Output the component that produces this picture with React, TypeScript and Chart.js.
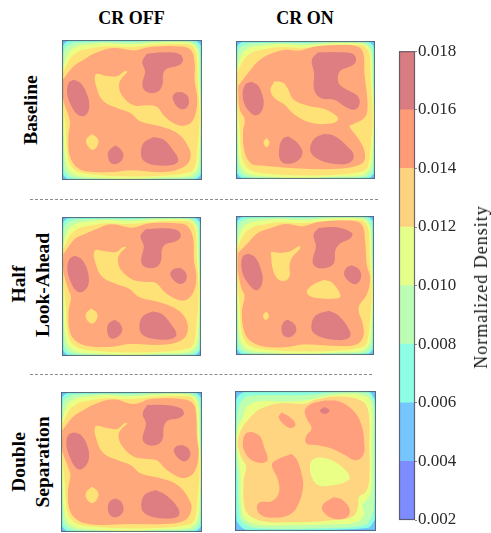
import React, { useEffect, useRef } from "react";
import { Chart, registerables } from "chart.js";

Chart.register(...registerables);

type Pt = [number, number];

// Colour-bar bands and ticks
const bandEdges = [0.002, 0.004, 0.006, 0.008, 0.01, 0.012, 0.014, 0.016, 0.018];
const bandColours = ["#7D8CFF", "#75C6FF", "#8CFFE4", "#BCFFB4", "#E6FF8A", "#FFD27F", "#FF9C78", "#D97C82"];

const columnTitles = ["CR OFF", "CR ON"];

// Contours shared by panels 1-5 (panel units, 0..420)
const rimCyan: Pt[] = [[22, 2], [120, 1], [210, 0], [300, 0], [398, 2], [410, 10], [418, 22], [421, 120], [423, 230], [421, 320], [418, 398], [410, 410], [398, 418], [300, 422], [210, 423], [120, 422], [22, 418], [10, 410], [2, 398], [-2, 320], [-3, 210], [-2, 120], [2, 22], [10, 10], [22, 2]];
const rimGreen: Pt[] = [[38, 8], [130, 6], [205, 7], [285, 4], [385, 5], [402, 12], [412, 30], [415, 120], [419, 230], [417, 320], [413, 390], [402, 408], [385, 414], [300, 418], [185, 420], [95, 418], [35, 413], [15, 403], [7, 385], [3, 290], [-2, 130], [3, 60], [12, 22], [38, 8]];
const rimLime: Pt[] = [[48, 18], [130, 10], [205, 13], [285, 8], [380, 8], [398, 18], [408, 40], [411, 120], [416, 230], [412, 330], [407, 380], [395, 400], [380, 408], [300, 412], [185, 416], [95, 412], [40, 405], [22, 392], [12, 370], [5, 280], [-2, 125], [8, 70], [22, 35], [48, 18]];
const rimYellow: Pt[] = [[55, 32], [130, 20], [205, 22], [285, 15], [380, 14], [395, 24], [403, 45], [406, 120], [412, 230], [404, 340], [398, 380], [385, 395], [305, 406], [185, 408], [95, 403], [50, 395], [30, 380], [18, 350], [12, 270], [1, 120], [10, 85], [30, 50], [55, 32]];

// Panel 1: Baseline, CR OFF
const p1Orange: Pt[] = [[38, 150], [70, 110], [100, 90], [135, 70], [190, 55], [250, 62], [300, 52], [380, 50], [420, 60], [432, 100], [432, 150], [440, 210], [432, 260], [415, 282], [385, 285], [345, 260], [320, 230], [290, 225], [250, 225], [215, 195], [207, 165], [215, 145], [232, 125], [222, 123], [200, 138], [170, 137], [135, 133], [140, 180], [160, 215], [200, 235], [240, 250], [270, 275], [330, 290], [380, 310], [410, 345], [420, 380], [400, 410], [340, 425], [240, 420], [190, 425], [130, 425], [85, 415], [60, 380], [55, 320], [60, 280], [55, 255], [40, 210], [38, 150]];
const p1RedA: Pt[] = [[70, 150], [90, 160], [108, 190], [116, 230], [105, 255], [85, 255], [65, 230], [52, 195], [55, 160], [70, 150]];
const p1RedB: Pt[] = [[290, 72], [340, 68], [385, 72], [397, 90], [385, 105], [350, 115], [338, 130], [335, 165], [320, 185], [290, 185], [277, 165], [285, 125], [277, 95], [290, 72]];
const p1RedC: Pt[] = [[395, 187], [412, 200], [413, 225], [398, 237], [380, 228], [368, 205], [375, 190], [395, 187]];
const p1RedD: Pt[] = [[310, 322], [340, 330], [370, 365], [383, 390], [370, 403], [320, 405], [285, 395], [273, 375], [280, 340], [310, 322]];
const p1RedE: Pt[] = [[195, 347], [212, 360], [218, 380], [205, 398], [185, 400], [175, 385], [175, 365], [195, 347]];
const p1Isle: Pt[] = [[125, 313], [140, 325], [143, 340], [130, 358], [115, 350], [108, 330], [125, 313]];

// Panel 2: Baseline, CR ON
const p2Orange: Pt[] = [[40, 170], [70, 130], [100, 95], [130, 75], [180, 60], [225, 62], [270, 50], [340, 45], [400, 50], [417, 70], [420, 130], [428, 200], [428, 250], [415, 270], [385, 285], [375, 292], [395, 320], [418, 360], [420, 395], [400, 410], [340, 420], [240, 420], [110, 410], [80, 405], [60, 370], [55, 310], [60, 270], [45, 240], [40, 170]];
const p2Isle: Pt[] = [[150, 155], [175, 160], [190, 180], [205, 210], [250, 230], [300, 240], [335, 260], [340, 272], [320, 282], [260, 280], [210, 255], [180, 225], [150, 205], [138, 180], [150, 155]];
const p2IsleSmall: Pt[] = [[125, 328], [133, 340], [125, 354], [117, 340], [125, 328]];
const p2RedA: Pt[] = [[80, 157], [100, 170], [115, 210], [112, 240], [95, 257], [78, 250], [60, 225], [54, 190], [62, 165], [80, 157]];
const p2RedB: Pt[] = [[280, 68], [340, 67], [385, 72], [395, 90], [385, 105], [350, 120], [340, 140], [345, 165], [375, 185], [400, 200], [405, 225], [390, 240], [365, 232], [330, 210], [290, 205], [270, 180], [270, 130], [263, 90], [280, 68]];
const p2RedC: Pt[] = [[300, 315], [330, 322], [365, 350], [388, 380], [375, 402], [330, 405], [280, 390], [258, 365], [270, 330], [300, 315]];
const p2RedD: Pt[] = [[190, 323], [215, 340], [233, 370], [220, 395], [190, 405], [168, 395], [165, 355], [175, 330], [190, 323]];

// Panel 3: Half Look-Ahead, CR OFF
const p3Orange: Pt[] = [[42, 150], [75, 105], [105, 90], [140, 75], [185, 60], [250, 70], [300, 57], [385, 57], [415, 65], [432, 100], [435, 170], [442, 215], [435, 260], [415, 285], [390, 287], [350, 265], [320, 235], [285, 232], [250, 225], [215, 195], [207, 165], [215, 145], [232, 128], [222, 127], [200, 142], [170, 140], [135, 138], [140, 185], [160, 220], [200, 240], [240, 255], [270, 280], [330, 295], [380, 315], [410, 345], [415, 385], [395, 410], [340, 422], [240, 420], [190, 428], [130, 428], [85, 415], [62, 385], [58, 320], [65, 280], [55, 250], [42, 200], [42, 150]];
const p3RedA: Pt[] = [[75, 155], [95, 165], [112, 195], [117, 235], [105, 258], [85, 262], [65, 235], [54, 195], [60, 165], [75, 155]];
const p3RedB: Pt[] = [[290, 75], [345, 72], [385, 78], [395, 95], [380, 110], [350, 118], [338, 135], [335, 170], [320, 188], [290, 188], [277, 170], [285, 125], [275, 95], [290, 75]];
const p3RedC: Pt[] = [[395, 192], [410, 205], [412, 225], [398, 238], [380, 232], [365, 210], [375, 195], [395, 192]];
const p3RedD: Pt[] = [[310, 323], [340, 332], [368, 365], [382, 392], [365, 405], [320, 405], [285, 395], [272, 375], [280, 340], [310, 323]];
const p3RedE: Pt[] = [[195, 348], [212, 360], [218, 380], [205, 398], [185, 403], [175, 385], [177, 362], [195, 348]];
const p3Isle: Pt[] = [[125, 315], [140, 325], [143, 340], [130, 358], [115, 350], [110, 330], [125, 315]];

// Panel 4: Half Look-Ahead, CR ON
const p4Orange: Pt[] = [[40, 145], [70, 115], [100, 85], [140, 70], [185, 58], [235, 65], [285, 52], [380, 48], [415, 60], [425, 110], [430, 180], [440, 220], [430, 270], [405, 310], [418, 360], [420, 395], [400, 420], [340, 425], [240, 420], [190, 428], [130, 428], [85, 415], [60, 385], [52, 320], [60, 275], [50, 250], [40, 200], [40, 145]];
const p4IsleA: Pt[] = [[140, 142], [170, 145], [200, 140], [225, 125], [228, 130], [205, 155], [195, 180], [195, 215], [180, 228], [160, 222], [145, 190], [140, 142]];
const p4IsleB: Pt[] = [[300, 227], [325, 235], [350, 275], [330, 282], [280, 280], [255, 272], [250, 258], [270, 240], [300, 227]];
const p4IsleC: Pt[] = [[125, 322], [132, 335], [124, 346], [116, 335], [125, 322]];
const p4RedA: Pt[] = [[70, 148], [90, 158], [108, 195], [113, 230], [100, 255], [85, 252], [60, 220], [50, 185], [55, 155], [70, 148]];
const p4RedB: Pt[] = [[285, 70], [340, 68], [385, 85], [380, 100], [350, 115], [335, 135], [330, 175], [310, 188], [280, 188], [267, 170], [277, 125], [270, 90], [285, 70]];
const p4RedC: Pt[] = [[385, 183], [405, 193], [413, 215], [400, 237], [380, 232], [363, 210], [370, 190], [385, 183]];
const p4RedD: Pt[] = [[315, 320], [345, 335], [380, 385], [372, 403], [320, 405], [275, 390], [263, 370], [275, 335], [315, 320]];
const p4RedE: Pt[] = [[190, 347], [210, 360], [215, 380], [200, 397], [180, 395], [172, 375], [178, 355], [190, 347]];

// Panel 5: Double Separation, CR OFF
const p5Orange: Pt[] = [[38, 150], [70, 110], [100, 90], [135, 72], [190, 58], [250, 72], [300, 57], [390, 57], [425, 70], [435, 110], [437, 170], [442, 220], [432, 270], [410, 290], [385, 290], [345, 265], [320, 240], [290, 235], [250, 228], [215, 195], [205, 165], [215, 145], [232, 130], [222, 128], [200, 145], [170, 142], [135, 138], [140, 185], [160, 220], [200, 240], [240, 255], [270, 280], [330, 295], [380, 315], [415, 360], [420, 390], [400, 420], [340, 430], [240, 430], [190, 432], [130, 432], [85, 420], [60, 390], [55, 330], [62, 285], [55, 260], [38, 210], [38, 150]];
const p5RedA: Pt[] = [[72, 157], [92, 165], [110, 195], [115, 235], [100, 262], [82, 265], [62, 235], [50, 195], [55, 165], [72, 157]];
const p5RedB: Pt[] = [[290, 75], [345, 75], [390, 85], [398, 100], [385, 112], [350, 120], [338, 140], [335, 175], [320, 192], [290, 192], [277, 175], [287, 130], [277, 100], [290, 75]];
const p5RedC: Pt[] = [[395, 195], [412, 205], [417, 225], [403, 242], [385, 235], [370, 212], [378, 198], [395, 195]];
const p5RedD: Pt[] = [[315, 330], [345, 345], [375, 375], [385, 400], [370, 412], [320, 412], [285, 400], [273, 380], [282, 345], [315, 330]];
const p5RedE: Pt[] = [[195, 355], [212, 365], [218, 390], [205, 407], [185, 408], [174, 390], [178, 365], [195, 355]];
const p5Isle: Pt[] = [[125, 320], [140, 332], [143, 348], [128, 367], [112, 358], [108, 338], [125, 320]];

// Panel 6: Double Separation, CR ON
const p6Blue: Pt[] = [[42, 31], [240, 30], [445, 30], [455, 35], [458, 430], [445, 455], [45, 456], [33, 447], [28, 190], [28, 40], [42, 31]];
const p6Cyan: Pt[] = [[60, 36], [240, 34], [425, 33], [440, 48], [450, 70], [452, 250], [452, 400], [440, 430], [425, 443], [240, 450], [70, 450], [48, 438], [36, 415], [31, 190], [34, 65], [45, 45], [60, 36]];
const p6Green: Pt[] = [[68, 48], [130, 46], [240, 46], [330, 38], [425, 40], [438, 55], [446, 85], [447, 250], [444, 380], [435, 415], [415, 435], [320, 443], [100, 444], [60, 432], [46, 410], [40, 300], [33, 190], [40, 100], [50, 65], [68, 48]];
const p6Lime: Pt[] = [[65, 80], [100, 65], [180, 65], [240, 62], [330, 45], [420, 50], [437, 80], [438, 200], [437, 310], [430, 350], [410, 375], [415, 400], [395, 425], [320, 432], [180, 435], [100, 433], [60, 415], [50, 380], [48, 300], [42, 230], [36, 190], [42, 140], [55, 110], [65, 80]];
const p6Yellow: Pt[] = [[100, 90], [140, 75], [180, 70], [240, 72], [270, 60], [340, 50], [410, 65], [428, 100], [430, 200], [430, 300], [420, 335], [400, 350], [395, 385], [380, 410], [320, 420], [250, 425], [200, 425], [130, 425], [80, 410], [60, 380], [58, 300], [65, 260], [50, 230], [40, 190], [50, 150], [75, 115], [100, 90]];
const p6OrangeA: Pt[] = [[300, 62], [340, 65], [380, 90], [405, 130], [415, 190], [412, 225], [390, 240], [360, 225], [320, 205], [280, 195], [245, 190], [243, 170], [260, 145], [245, 115], [240, 90], [260, 72], [300, 62]];
const p6OrangeB: Pt[] = [[85, 157], [105, 170], [118, 205], [127, 240], [105, 248], [75, 235], [57, 205], [57, 175], [65, 160], [85, 157]];
const p6OrangeC: Pt[] = [[170, 98], [195, 113], [210, 132], [200, 143], [180, 135], [162, 112], [170, 98]];
const p6OrangeD: Pt[] = [[200, 223], [215, 240], [228, 280], [233, 320], [215, 380], [190, 405], [140, 412], [110, 405], [97, 385], [105, 368], [140, 365], [162, 340], [160, 300], [142, 255], [160, 238], [200, 223]];
const p6OrangeE: Pt[] = [[325, 352], [350, 360], [372, 390], [362, 412], [325, 415], [295, 395], [293, 375], [325, 352]];
const p6LimeIsle: Pt[] = [[285, 233], [315, 240], [350, 262], [372, 292], [360, 305], [320, 315], [280, 315], [260, 290], [255, 255], [265, 238], [285, 233]];
const p6Red: Pt[] = [[298, 82], [312, 92], [298, 101], [285, 92], [298, 82]];

const C = {
  blue: "#6FC6FF", cyan: "#8CFFE0", green: "#BEFFB0", lime: "#EAFF86",
  yellow: "#FFE277", orange: "#FFA87C", red: "#DE7E82",
  deepBlue: "#7590FF", amber: "#FFD581", salmon: "#FF9F7E",
};

type Layer = { poly: Pt[]; colour: string; rim?: boolean };
type Panel = { left: number; top: number; width: number; height: number; ox: number; oy: number; back: string; layers: Layer[] };

const rims: Layer[] = [
  { poly: rimCyan, colour: C.cyan, rim: true },
  { poly: rimGreen, colour: C.green, rim: true },
  { poly: rimLime, colour: C.lime, rim: true },
  { poly: rimYellow, colour: C.yellow, rim: true },
];
const reds = (list: Pt[][]): Layer[] => list.map((poly) => ({ poly, colour: C.red }));
const isles = (list: Pt[][], colour = C.yellow): Layer[] => list.map((poly) => ({ poly, colour }));

const panels: Panel[] = [
  { left: 62, top: 40, width: 140, height: 140, ox: 35, oy: 30, back: C.blue,
    layers: [...rims, { poly: p1Orange, colour: C.orange }, ...isles([p1Isle]), ...reds([p1RedA, p1RedB, p1RedC, p1RedD, p1RedE])] },
  { left: 236, top: 41, width: 139, height: 138, ox: 33, oy: 32, back: C.blue,
    layers: [...rims, { poly: p2Orange, colour: C.orange }, ...isles([p2Isle, p2IsleSmall]), ...reds([p2RedA, p2RedB, p2RedC, p2RedD])] },
  { left: 62, top: 217, width: 139, height: 139, ox: 37, oy: 37, back: C.blue,
    layers: [...rims, { poly: p3Orange, colour: C.orange }, ...isles([p3Isle]), ...reds([p3RedA, p3RedB, p3RedC, p3RedD, p3RedE])] },
  { left: 236, top: 216, width: 138, height: 139, ox: 33, oy: 33, back: C.blue,
    layers: [...rims, { poly: p4Orange, colour: C.orange }, ...isles([p4IsleA, p4IsleB, p4IsleC]), ...reds([p4RedA, p4RedB, p4RedC, p4RedD, p4RedE])] },
  { left: 61, top: 392, width: 141, height: 140, ox: 33, oy: 35, back: C.blue,
    layers: [...rims, { poly: p5Orange, colour: C.orange }, ...isles([p5Isle]), ...reds([p5RedA, p5RedB, p5RedC, p5RedD, p5RedE])] },
  { left: 235, top: 391, width: 141, height: 140, ox: 31, oy: 33, back: C.deepBlue,
    layers: [
      { poly: p6Blue, colour: C.blue }, { poly: p6Cyan, colour: C.cyan }, { poly: p6Green, colour: C.green },
      { poly: p6Lime, colour: C.lime }, { poly: p6Yellow, colour: C.amber },
      ...isles([p6OrangeA, p6OrangeB, p6OrangeC, p6OrangeD, p6OrangeE], C.salmon),
      { poly: p6LimeIsle, colour: C.lime }, { poly: p6Red, colour: C.red },
    ] },
];

const framePlugin = (colour: string, background?: string) => ({
  id: "frame",
  beforeDatasetsDraw(chart: any) {
    if (!background) return;
    const { left, top, width, height } = chart.chartArea;
    chart.ctx.fillStyle = background;
    chart.ctx.fillRect(left, top, width, height);
  },
  afterDraw(chart: any) {
    const { left, top, width, height } = chart.chartArea;
    chart.ctx.strokeStyle = colour;
    chart.ctx.lineWidth = 1.2;
    chart.ctx.strokeRect(left + 0.5, top + 0.5, width - 1, height - 1);
  },
});

function ContourPanel({ panel }: { panel: Panel }) {
  const ref = useRef<HTMLCanvasElement>(null);
  useEffect(() => {
    const chart = new Chart(ref.current!, {
      type: "scatter",
      data: {
        // Chart.js paints the first dataset last, so the innermost contour goes first.
        datasets: [...panel.layers].reverse().map((layer) => ({
          data: layer.poly.map(([x, y]) =>
            layer.rim ? { x, y } : { x: x - panel.ox, y: y - panel.oy }
          ),
          showLine: true,
          fill: "shape",
          tension: 0.4,
          pointRadius: 0,
          borderWidth: 0.6,
          borderColor: layer.colour,
          backgroundColor: layer.colour,
        })),
      } as any,
      options: {
        animation: false,
        responsive: false,
        devicePixelRatio: 2,
        layout: { padding: 0 },
        elements: { line: { capBezierPoints: false } },
        plugins: { legend: { display: false }, tooltip: { enabled: false } },
        scales: {
          x: { display: false, min: 0, max: 420 },
          y: { display: false, min: 0, max: 420, reverse: true },
        },
      } as any,
      plugins: [framePlugin("rgba(75,85,100,0.8)", panel.back)],
    });
    return () => chart.destroy();
  }, [panel]);
  return (
    <canvas
      ref={ref}
      width={panel.width}
      height={panel.height}
      style={{ position: "absolute", left: panel.left, top: panel.top, width: panel.width, height: panel.height }}
    />
  );
}

function ColourBar() {
  const ref = useRef<HTMLCanvasElement>(null);
  useEffect(() => {
    const chart = new Chart(ref.current!, {
      type: "bar",
      data: {
        labels: ["density"],
        datasets: bandColours.map((colour, i) => ({
          data: [[bandEdges[i], bandEdges[i + 1]]],
          backgroundColor: colour,
          barPercentage: 1,
          categoryPercentage: 1,
          grouped: false,
        })),
      } as any,
      options: {
        animation: false,
        responsive: false,
        layout: { padding: { left: 4, top: 11, bottom: 13, right: 0 } },
        plugins: { legend: { display: false }, tooltip: { enabled: false } },
        scales: {
          x: { display: false },
          y: {
            position: "right",
            min: 0.002,
            max: 0.018,
            afterBuildTicks(axis: any) {
              axis.ticks = bandEdges.map((value) => ({ value }));
            },
            afterFit(axis: any) {
              axis.width = 64;
            },
            grid: { drawOnChartArea: false, tickLength: 2, color: "#888" },
            border: { display: false },
            ticks: {
              padding: 1,
              color: "#2b2b2b",
              font: { family: "'Liberation Serif'", size: 17 },
              callback: (v: any) => Number(v).toFixed(3),
            },
          },
        },
      } as any,
      plugins: [framePlugin("rgba(85,85,95,0.85)")],
    });
    return () => chart.destroy();
  }, []);
  return <canvas ref={ref} width={84} height={493} style={{ position: "absolute", left: 395, top: 40, width: 84, height: 493 }} />;
}

const serif = "'Liberation Serif', serif";

function Label({ text, x, y, rotate, bold, size, spacing }: { text: string; x: number; y: number; rotate?: boolean; bold?: boolean; size: number; spacing?: number }) {
  return (
    <div
      style={{
        position: "absolute", left: x, top: y, whiteSpace: "nowrap", fontFamily: serif,
        fontWeight: bold ? 700 : 400, fontSize: size, lineHeight: 1, color: bold ? "#000" : "#111",
        letterSpacing: spacing ?? 0,
        transform: `translate(-50%, -50%)${rotate ? " rotate(-90deg)" : ""}`,
      }}
    >
      {text}
    </div>
  );
}

const dash = (top: number, left: number, width: number) => (
  <div style={{ position: "absolute", top, left, width, height: 0, borderTop: "1px dashed #8a8a8a" }} />
);

export default function App() {
  return (
    <div style={{ position: "absolute", left: 0, top: 0, width: 491, height: 533, overflow: "hidden", background: "#fff" }}>
      <Label text={columnTitles[0]} x={131.5} y={18} bold size={18} />
      <Label text={columnTitles[1]} x={305} y={18} bold size={18} />
      <Label text="Baseline" x={31} y={109.5} rotate bold size={19.5} />
      <Label text="Half" x={19} y={284} rotate bold size={19.5} />
      <Label text="Look-Ahead" x={43} y={284.5} rotate bold size={19.5} />
      <Label text="Double" x={18.5} y={461.5} rotate bold size={19.5} />
      <Label text="Separation" x={43} y={461.5} rotate bold size={19.5} />
      {dash(199, 30, 348)}
      {dash(374, 30, 342)}
      {panels.map((panel, i) => (
        <ContourPanel key={i} panel={panel} />
      ))}
      <ColourBar />
      <Label text="Normalized Density" x={481} y={287} rotate size={18} spacing={1} />
    </div>
  );
}
